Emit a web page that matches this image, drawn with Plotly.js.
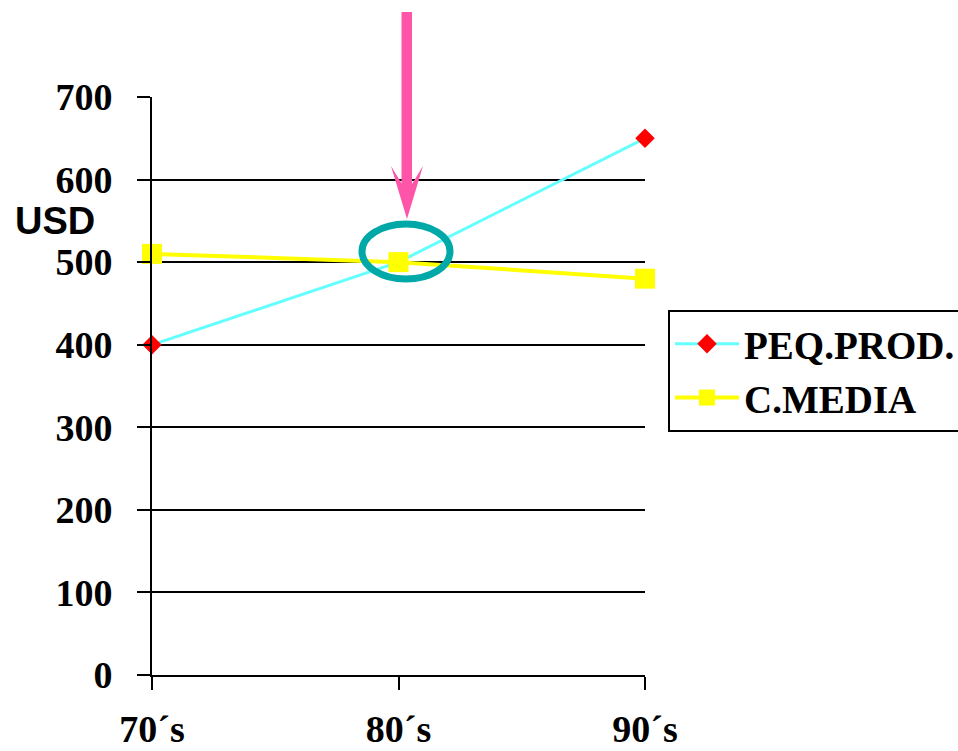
<!DOCTYPE html>
<html>
<head>
<meta charset="utf-8">
<script src="https://cdn.plot.ly/plotly-3.0.1.min.js"></script>
<style>html,body{margin:0;padding:0;background:#fff;}#chart{width:958px;height:751px;}</style>
</head>
<body>
<div id="chart"></div>
<script>
const categories = ["70´s", "80´s", "90´s"];
const peqProd = [400, 500, 650];
const cMedia = [510, 500, 480];
const seriesNames = ["PEQ.PROD.", "C.MEDIA"];
const yTicks = [0, 100, 200, 300, 400, 500, 600, 700];

// plot area in pixels (for decorative shapes only)
const L = 152, R = 645, T = 97, B = 675;
const px = x => (x - L) / (R - L);
const py = y => (B - y) / (B - T);

const serif = {family: "Liberation Serif, Times New Roman, serif", size: 38, color: "#000", weight: "bold"};

const traces = [
  {
    x: categories, y: peqProd, name: seriesNames[0], type: "scatter", mode: "lines+markers",
    line: {color: "#66FFFF", width: 3},
    marker: {symbol: "diamond", color: "#FF0000", size: 15},
    cliponaxis: false
  },
  {
    x: categories, y: cMedia, name: seriesNames[1], type: "scatter", mode: "lines+markers",
    line: {color: "#FFFF00", width: 4},
    marker: {symbol: "square", color: "#FFFF00", size: 20},
    cliponaxis: false
  }
];

const pink = "#FF55A8";
const arrowHead = "M" + px(391) + "," + py(166) + " L" + px(402) + "," + py(184) +
  " L" + px(412) + "," + py(184) + " L" + px(423) + "," + py(166) +
  " L" + px(407) + "," + py(219) + " Z";

const layout = {
  width: 958, height: 751,
  margin: {l: L, r: 958 - R, t: T, b: 751 - B, pad: 0, autoexpand: false},
  paper_bgcolor: "#fff", plot_bgcolor: "#fff",
  showlegend: true,
  hovermode: false,
  xaxis: {
    type: "category", range: [0, 2], showgrid: false, zeroline: false,
    showline: true, linecolor: "#000", linewidth: 2,
    ticks: "outside", ticklen: 13, tickcolor: "#000", tickwidth: 2,
    tickfont: serif, ticklabelstandoff: 6, fixedrange: true, automargin: false
  },
  yaxis: {
    range: [0, 700], tickvals: yTicks, showgrid: true, gridcolor: "#000", gridwidth: 2,
    zeroline: false, showline: true, linecolor: "#000", linewidth: 2,
    ticks: "outside", ticklen: 13, tickcolor: "#000", tickwidth: 2,
    tickfont: serif, ticklabelstandoff: 17, fixedrange: true, automargin: false
  },
  legend: {
    x: px(668), y: py(310), xanchor: "left", yanchor: "top",
    bgcolor: "#fff", bordercolor: "#000", borderwidth: 2,
    font: {family: serif.family, size: 39, color: "#000", weight: "bold"},
    itemwidth: 64, tracegroupgap: 0
  },
  annotations: [
    {text: "USD", xref: "paper", yref: "paper", x: px(55), y: py(221), xanchor: "center", yanchor: "middle",
     showarrow: false, font: {family: "Liberation Sans, Arial, sans-serif", size: 38, color: "#000", weight: "bold"}}
  ],
  shapes: [
    {type: "circle", xref: "paper", yref: "paper", x0: px(362), x1: px(450), y0: py(279), y1: py(224),
     line: {color: "#00A8A8", width: 7}, layer: "above"},
    {type: "rect", xref: "paper", yref: "paper", x0: px(401.5), x1: px(412), y0: py(186), y1: py(12),
     fillcolor: pink, line: {width: 0}, layer: "above"},
    {type: "path", xref: "paper", yref: "paper", path: arrowHead, fillcolor: pink, line: {width: 0}, layer: "above"}
  ]
};

Plotly.newPlot("chart", traces, layout, {displayModeBar: false, staticPlot: true});
</script>
</body>
</html>
